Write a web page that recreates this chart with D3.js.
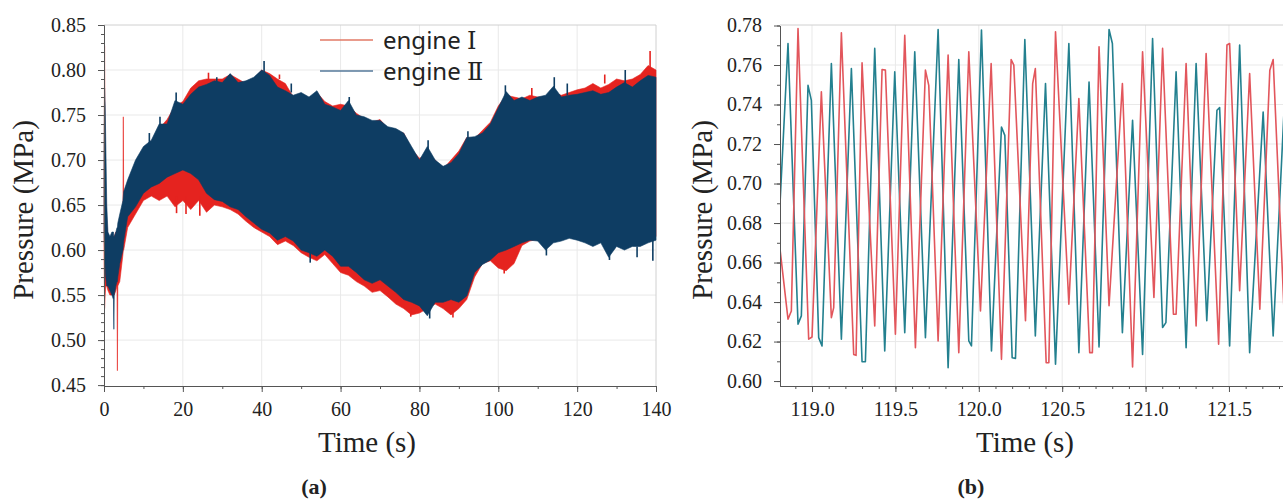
<!DOCTYPE html>
<html>
<head>
<meta charset="utf-8">
<script src="https://cdn.jsdelivr.net/npm/d3@7"></script>
<style>
  body { margin: 0; background: #fff; }
  svg text { font-family: "Liberation Serif", "Times New Roman", serif; fill: #222; }
</style>
</head>
<body>
<svg width="1283" height="499"></svg>
<script>
// ---- panel (a): envelope of the pressure oscillation over 0-140 s ----
const timeA = [0, 0.15, 0.3, 0.45, 0.7, 1, 1.5, 2, 2.4, 2.5, 2.6, 3, 3.3, 3.4, 3.5, 4, 4.8, 4.9, 5, 6,
  8, 10, 12, 14, 16, 18, 20, 22, 24, 26, 28, 30, 32, 34, 36, 38, 40, 42, 44, 46,
  48, 50, 52, 54, 56, 58, 60, 62, 64, 66, 68, 70, 72, 74, 76, 78, 80, 82, 84, 86,
  88, 90, 92, 94, 96, 98, 100, 102, 104, 106, 108, 110, 112, 114, 116, 118, 120, 122, 124, 126,
  128, 130, 132, 134, 136, 138, 140];

const engine1Upper = [0.66, 0.827, 0.70, 0.66, 0.63, 0.615, 0.61, 0.61, 0.615, 0.615, 0.615, 0.62, 0.615, 0.615, 0.62, 0.62, 0.64, 0.748, 0.645, 0.67,
  0.695, 0.71, 0.72, 0.735, 0.745, 0.76, 0.765, 0.78, 0.788, 0.79,
  0.79, 0.79, 0.795, 0.79, 0.785, 0.79, 0.80, 0.796, 0.79, 0.785,
  0.77, 0.773, 0.768, 0.775, 0.765, 0.76, 0.762, 0.76, 0.752, 0.746,
  0.742, 0.745, 0.735, 0.732, 0.73, 0.712, 0.702, 0.705, 0.70, 0.69,
  0.70, 0.71, 0.725, 0.724, 0.733, 0.742, 0.76, 0.772, 0.77, 0.768,
  0.772, 0.77, 0.77, 0.775, 0.772, 0.775, 0.778, 0.78, 0.785, 0.78,
  0.784, 0.79, 0.788, 0.79, 0.795, 0.805, 0.80];
const engine1Lower = [0.60, 0.535, 0.55, 0.56, 0.56, 0.555, 0.55, 0.55, 0.55, 0.55, 0.55, 0.555, 0.56, 0.466, 0.56, 0.565, 0.595, 0.60, 0.60, 0.625,
  0.64, 0.655, 0.66, 0.655, 0.66, 0.648, 0.655, 0.645, 0.655, 0.642,
  0.65, 0.648, 0.645, 0.64, 0.632, 0.625, 0.62, 0.615, 0.606, 0.61,
  0.605, 0.597, 0.592, 0.588, 0.595, 0.585, 0.575, 0.572, 0.565, 0.56,
  0.553, 0.555, 0.548, 0.54, 0.535, 0.528, 0.53, 0.535, 0.54, 0.535,
  0.528, 0.535, 0.545, 0.57, 0.585, 0.588, 0.58, 0.577, 0.585, 0.605,
  0.61, 0.612, 0.612, 0.615, 0.615, 0.618, 0.616, 0.614, 0.61, 0.612,
  0.605, 0.608, 0.608, 0.61, 0.61, 0.612, 0.615];

const engine2Upper = [0.70, 0.78, 0.76, 0.72, 0.65, 0.62, 0.615, 0.62, 0.62, 0.615, 0.615, 0.62, 0.625, 0.625, 0.63, 0.64, 0.655, 0.66, 0.665, 0.678,
  0.70, 0.715, 0.722, 0.74, 0.74, 0.766, 0.762, 0.773, 0.781, 0.784,
  0.788, 0.786, 0.796, 0.786, 0.788, 0.792, 0.80, 0.794, 0.781, 0.777,
  0.772, 0.775, 0.77, 0.777, 0.762, 0.759, 0.755, 0.766, 0.75, 0.748,
  0.744, 0.744, 0.737, 0.735, 0.73, 0.715, 0.70, 0.715, 0.70, 0.693,
  0.697, 0.707, 0.725, 0.726, 0.73, 0.74, 0.758, 0.776, 0.766, 0.77,
  0.766, 0.77, 0.772, 0.782, 0.77, 0.772, 0.773, 0.775, 0.777, 0.773,
  0.775, 0.781, 0.786, 0.781, 0.788, 0.794, 0.792];
const engine2Lower = [0.62, 0.60, 0.58, 0.57, 0.56, 0.56, 0.555, 0.55, 0.545, 0.512, 0.55, 0.56, 0.565, 0.565, 0.57, 0.585, 0.60, 0.605, 0.61, 0.637,
  0.648, 0.663, 0.67, 0.674, 0.681, 0.685, 0.689, 0.685, 0.678, 0.663,
  0.656, 0.654, 0.648, 0.645, 0.637, 0.63, 0.623, 0.619, 0.611, 0.615,
  0.61, 0.60, 0.597, 0.593, 0.60, 0.593, 0.582, 0.582, 0.575, 0.567,
  0.563, 0.567, 0.56, 0.553, 0.545, 0.542, 0.538, 0.527, 0.542, 0.542,
  0.545, 0.542, 0.549, 0.575, 0.584, 0.589, 0.597, 0.60, 0.604, 0.608,
  0.611, 0.61, 0.60, 0.608, 0.61, 0.613, 0.611, 0.608, 0.604, 0.608,
  0.592, 0.604, 0.60, 0.604, 0.604, 0.608, 0.611];

// single spikes that stick out of the envelopes: [time, from, to]
const engine1Spikes = [[18.4, 0.66, 0.641], [20.8, 0.66, 0.64], [24.3, 0.66, 0.638], [26.5, 0.79, 0.797],
  [44.5, 0.79, 0.795], [77.8, 0.535, 0.526], [88.5, 0.535, 0.525], [101.5, 0.59, 0.574],
  [108.5, 0.77, 0.78], [127, 0.785, 0.795], [138.5, 0.80, 0.821]];
const engine2Spikes = [[11.5, 0.715, 0.73], [14.2, 0.74, 0.748], [18.3, 0.76, 0.775], [28.6, 0.785, 0.792], [40.6, 0.795, 0.81],
  [47.5, 0.775, 0.785], [62.2, 0.76, 0.77], [82.2, 0.71, 0.722], [92.3, 0.72, 0.732],
  [101.8, 0.77, 0.783], [114.2, 0.775, 0.792], [117.5, 0.772, 0.785], [132.2, 0.785, 0.80],
  [52.3, 0.597, 0.586], [82.6, 0.535, 0.524], [112.2, 0.605, 0.594], [128.2, 0.6, 0.589],
  [135.2, 0.604, 0.592], [139.2, 0.61, 0.588]];

const ticksXA = [0, 20, 40, 60, 80, 100, 120, 140];
const ticksYA = [0.45, 0.50, 0.55, 0.60, 0.65, 0.70, 0.75, 0.80, 0.85];

// ---- panel (b): zoom 118.8-121.8 s, peaks/troughs of each trace ----
const timeB1 = [118.80, 118.856, 118.876, 118.916, 118.98, 119.00, 119.056, 119.116, 119.13, 119.176,
  119.25, 119.264, 119.30, 119.376, 119.42, 119.44, 119.50, 119.556, 119.62, 119.68,
  119.70, 119.756, 119.816, 119.88, 119.94, 120.01, 120.074, 120.136, 120.194, 120.21,
  120.28, 120.323, 120.339, 120.404, 120.420, 120.460, 120.540, 120.600, 120.665, 120.681,
  120.721, 120.781, 120.861, 120.922, 120.982, 121.050, 121.102, 121.167, 121.183, 121.243,
  121.303, 121.363, 121.438, 121.488, 121.504, 121.564, 121.624, 121.685, 121.745, 121.765, 121.829];
const pressB1 = [0.6728, 0.6313, 0.6355, 0.7785, 0.6212, 0.6223, 0.7464, 0.6321, 0.6372, 0.7763,
  0.6135, 0.6130, 0.7611, 0.6279, 0.7577, 0.7574, 0.6237, 0.7751, 0.6169, 0.7574,
  0.7497, 0.6203, 0.7650, 0.6144, 0.7667, 0.6355, 0.7607, 0.6110, 0.7628, 0.7599,
  0.6305, 0.7506, 0.7582, 0.6093, 0.6093, 0.7768, 0.6389, 0.7430, 0.6144, 0.6144,
  0.7692, 0.6381, 0.7506, 0.6071, 0.7667, 0.6423, 0.7684, 0.6338, 0.6338, 0.7607,
  0.6279, 0.7658, 0.6186, 0.7701, 0.7709, 0.6457, 0.7557, 0.6364, 0.7574, 0.7628, 0.6381];

const timeB2 = [118.80, 118.856, 118.916, 118.936, 118.976, 118.996, 119.04, 119.06, 119.116, 119.176,
  119.236, 119.30, 119.32, 119.376, 119.436, 119.496, 119.556, 119.616, 119.68, 119.756,
  119.816, 119.88, 119.94, 119.956, 120.016, 120.076, 120.136, 120.156, 120.20, 120.22,
  120.276, 120.339, 120.400, 120.460, 120.540, 120.600, 120.661, 120.721, 120.781, 120.801,
  120.861, 120.922, 120.982, 121.042, 121.102, 121.122, 121.183, 121.243, 121.303, 121.367,
  121.428, 121.444, 121.504, 121.564, 121.624, 121.705, 121.765, 121.839];
const pressB2 = [0.6761, 0.7709, 0.6288, 0.6330, 0.7497, 0.7421, 0.6220, 0.6178, 0.7607, 0.6212,
  0.7582, 0.6098, 0.6098, 0.7684, 0.6152, 0.7565, 0.6245, 0.7667, 0.6220, 0.7780,
  0.6068, 0.7628, 0.6203, 0.6178, 0.7777, 0.6152, 0.7286, 0.7244, 0.6118, 0.6115,
  0.7729, 0.6228, 0.7506, 0.6085, 0.7709, 0.6144, 0.7514, 0.6173, 0.7780, 0.7709,
  0.6245, 0.7320, 0.6135, 0.7734, 0.6271, 0.6296, 0.7565, 0.6169, 0.7607, 0.6305,
  0.7371, 0.7384, 0.6178, 0.7701, 0.6144, 0.7362, 0.6228, 0.7523];

const ticksXB = [119.0, 119.5, 120.0, 120.5, 121.0, 121.5];
const ticksYB = [0.60, 0.62, 0.64, 0.66, 0.68, 0.70, 0.72, 0.74, 0.76, 0.78];

const legendNames = ["engine ", "engine "];
const legendNumerals = ["Ⅰ", "Ⅱ"];

const svg = d3.select('svg');
const axisColor = "#555";
const gridColor = "#e9e9e9";
const serif = "'Liberation Serif', 'Times New Roman', serif";

function styleAxis(g) {
  g.attr("font-size", 20).attr("font-family", serif);
  g.selectAll("path, line").attr("stroke", axisColor);
  g.selectAll("text").attr("fill", "#333").attr("font-family", serif).style("font-family", serif);
}

// ================= panel (a) =================
const xA = d3.scaleLinear().domain([0, 140]).range([104, 656]);
const yA = d3.scaleLinear().domain([0.449, 0.85]).range([386, 25]);

const gA = svg.append("g");

// grid + frame
gA.append("g").selectAll("line").data(ticksXA.slice(1, -1)).join("line")
  .attr("x1", d => xA(d)).attr("x2", d => xA(d)).attr("y1", 25).attr("y2", 386)
  .attr("stroke", gridColor);
gA.append("g").selectAll("line").data(ticksYA.slice(1, -1)).join("line")
  .attr("x1", 104).attr("x2", 656).attr("y1", d => yA(d)).attr("y2", d => yA(d))
  .attr("stroke", gridColor);
gA.append("line").attr("x1", 104).attr("x2", 656).attr("y1", 25).attr("y2", 25).attr("stroke", "#d0d0d0");
gA.append("line").attr("x1", 656).attr("x2", 656).attr("y1", 25).attr("y2", 386).attr("stroke", "#d0d0d0");

const bandA = (up, lo) => timeA.map((t, i) => ({t, hi: up[i], lo: lo[i]}));
const areaA = d3.area().x(d => xA(d.t)).y0(d => yA(d.lo)).y1(d => yA(d.hi));
const red = "#e5231f", navy = "#0e3d63";

function drawBand(up, lo, spikes, color) {
  gA.append("path").datum(bandA(up, lo))
    .attr("d", areaA).attr("fill", color).attr("stroke", color).attr("stroke-width", 0.6);
  gA.append("g").selectAll("line").data(spikes).join("line")
    .attr("x1", d => xA(d[0])).attr("x2", d => xA(d[0]))
    .attr("y1", d => yA(d[1])).attr("y2", d => yA(d[2]))
    .attr("stroke", color).attr("stroke-width", 1.6);
}
drawBand(engine1Upper, engine1Lower, engine1Spikes, red);
drawBand(engine2Upper, engine2Lower, engine2Spikes, navy);

// axes
gA.append("g").attr("transform", "translate(0,386)")
  .call(d3.axisBottom(xA).tickValues(d3.range(0, 141, 10)).tickSize(3).tickFormat("").tickSizeOuter(0))
  .call(styleAxis);
gA.append("g").attr("transform", "translate(0,386)")
  .call(d3.axisBottom(xA).tickValues(ticksXA).tickSize(6).tickPadding(10).tickFormat(d3.format("d")).tickSizeOuter(0))
  .call(styleAxis);
gA.append("g").attr("transform", "translate(104,0)")
  .call(d3.axisLeft(yA).tickValues(d3.range(45, 86).map(v => v / 100)).tickSize(3).tickFormat("").tickSizeOuter(0))
  .call(styleAxis);
gA.append("g").attr("transform", "translate(104,0)")
  .call(d3.axisLeft(yA).tickValues(ticksYA).tickSize(6).tickPadding(12).tickFormat(d3.format(".2f")).tickSizeOuter(0))
  .call(styleAxis);

// legend
const legendColors = ["#e27a66", "#55789a"];
const leg = gA.append("g");
legendNames.forEach((name, i) => {
  const yy = 40 + i * 31;
  leg.append("line").attr("x1", 320).attr("x2", 373).attr("y1", yy).attr("y2", yy)
    .attr("stroke", legendColors[i]).attr("stroke-width", 1.6);
  const t = leg.append("text").attr("x", 383).attr("y", yy + 9)
    .style("font-family", "'Noto Sans', sans-serif")
    .attr("font-size", 24).attr("fill", "#111");
  t.append("tspan").text(name);
  t.append("tspan").style("font-family", "'DejaVu Serif', 'Noto Sans CJK SC', serif")
    .attr("font-size", 24).text(legendNumerals[i]);
});

gA.append("text").attr("x", 367).attr("y", 452).attr("text-anchor", "middle")
  .attr("font-size", 29).text("Time (s)");
gA.append("text").attr("transform", "translate(33,210) rotate(-90)").attr("text-anchor", "middle")
  .attr("font-size", 29).text("Pressure (MPa)");
gA.append("text").attr("x", 314).attr("y", 494).attr("text-anchor", "middle")
  .attr("font-size", 22).attr("font-weight", "bold").text("(a)");

// ================= panel (b) =================
const xB = d3.scaleLinear().domain([118.808, 121.824]).range([780, 1283]);
const yB = d3.scaleLinear().domain([0.5975, 0.78]).range([386, 25.5]);

const gB = svg.append("g");
gB.append("clipPath").attr("id", "clipB").append("rect")
  .attr("x", 780).attr("y", 20).attr("width", 503).attr("height", 366);

gB.append("g").selectAll("line").data(ticksXB).join("line")
  .attr("x1", d => xB(d)).attr("x2", d => xB(d)).attr("y1", 25).attr("y2", 386)
  .attr("stroke", gridColor);
gB.append("g").selectAll("line").data(ticksYB.slice(1, -1)).join("line")
  .attr("x1", 780).attr("x2", 1283).attr("y1", d => yB(d)).attr("y2", d => yB(d))
  .attr("stroke", gridColor);
gB.append("line").attr("x1", 780).attr("x2", 1283).attr("y1", 25).attr("y2", 25).attr("stroke", "#d0d0d0");

const lineB = d3.line().x(d => xB(d.t)).y(d => yB(d.p));
const plotB = gB.append("g").attr("clip-path", "url(#clipB)");
plotB.append("path").datum(timeB2.map((t, i) => ({t, p: pressB2[i]})))
  .attr("d", lineB).attr("fill", "none").attr("stroke", "#23808f").attr("stroke-width", 1.6)
  .attr("stroke-linejoin", "round");
plotB.append("path").datum(timeB1.map((t, i) => ({t, p: pressB1[i]})))
  .attr("d", lineB).attr("fill", "none").attr("stroke", "#e2565c").attr("stroke-width", 1.6)
  .attr("stroke-linejoin", "round");

gB.append("g").attr("transform", "translate(0,386)")
  .call(d3.axisBottom(xB).tickValues(d3.range(1189, 1219).map(v => v / 10)).tickSize(3).tickFormat("").tickSizeOuter(0))
  .call(styleAxis);
gB.append("g").attr("transform", "translate(0,386)")
  .call(d3.axisBottom(xB).tickValues(ticksXB).tickSize(6).tickPadding(10).tickFormat(d3.format(".1f")).tickSizeOuter(0))
  .call(styleAxis);
gB.append("g").attr("transform", "translate(780,0)")
  .call(d3.axisLeft(yB).tickValues(d3.range(60, 79).map(v => v / 100)).tickSize(3).tickFormat("").tickSizeOuter(0))
  .call(styleAxis);
gB.append("g").attr("transform", "translate(780,0)")
  .call(d3.axisLeft(yB).tickValues(ticksYB).tickSize(6).tickPadding(12).tickFormat(d3.format(".2f")).tickSizeOuter(0))
  .call(styleAxis);

gB.append("text").attr("x", 1025).attr("y", 452).attr("text-anchor", "middle")
  .attr("font-size", 29).text("Time (s)");
gB.append("text").attr("transform", "translate(712,210) rotate(-90)").attr("text-anchor", "middle")
  .attr("font-size", 29).text("Pressure (MPa)");
gB.append("text").attr("x", 971).attr("y", 494).attr("text-anchor", "middle")
  .attr("font-size", 22).attr("font-weight", "bold").text("(b)");
</script>
</body>
</html>
